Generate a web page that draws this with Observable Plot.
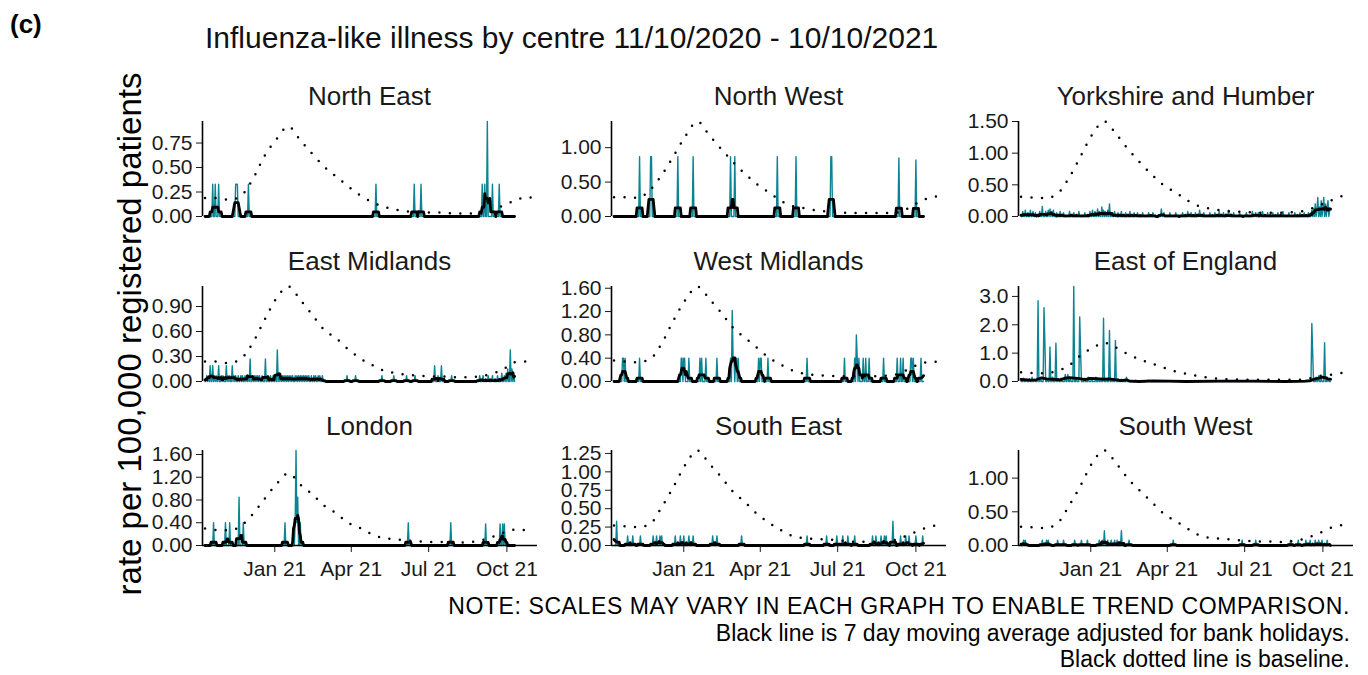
<!DOCTYPE html>
<html><head><meta charset="utf-8">
<script src="https://cdn.jsdelivr.net/npm/d3@7"></script>
<script src="https://cdn.jsdelivr.net/npm/@observablehq/plot@0.6"></script>
<style>
body{margin:0;background:#fff;}
#root{position:relative;width:1368px;height:675px;overflow:hidden;background:#fff;font-family:"Liberation Sans",Arial,sans-serif;}
#overlay{position:absolute;left:0;top:0;pointer-events:none;}
</style></head><body><div id="root"></div>
<script>
// ---------- data ----------
const startDate = "2020-10-11";           // day index 0 of the daily series
const nDays = 365;                         // 11/10/2020 - 10/10/2021
const xDomain = ["2020-10-08", "2021-11-06"];
const xTicks = ["2021-01-01", "2021-04-01", "2021-07-01", "2021-10-01"];

const regions = ["North East", "North West", "Yorkshire and Humber",
  "East Midlands", "West Midlands", "East of England",
  "London", "South East", "South West"];

// baseline (dotted) sample dates
const baseDates = ["2020-10-11","2020-10-25","2020-11-08","2020-11-22","2020-12-06","2020-12-20",
  "2021-01-03","2021-01-17","2021-01-31","2021-02-14","2021-02-28","2021-03-14","2021-03-28",
  "2021-04-11","2021-04-25","2021-05-09","2021-05-23","2021-06-06","2021-06-20","2021-07-04",
  "2021-07-18","2021-08-01","2021-08-15","2021-08-29","2021-09-12","2021-09-26","2021-10-10",
  "2021-10-24","2021-10-31"];

const neBase = [0.19,0.19,0.17,0.21,0.38,0.62,0.79,0.92,0.78,0.64,0.51,0.41,0.31,0.22,0.15,0.10,0.07,0.05,0.05,0.04,0.04,0.03,0.03,0.03,0.05,0.11,0.16,0.20,0.19];
const nwBase = [0.28,0.28,0.27,0.38,0.60,0.88,1.17,1.38,1.18,0.98,0.79,0.62,0.47,0.35,0.23,0.15,0.12,0.09,0.07,0.06,0.05,0.05,0.05,0.05,0.06,0.15,0.24,0.29,0.29];
const yhBase = [0.31,0.30,0.29,0.35,0.60,0.95,1.30,1.50,1.30,1.06,0.85,0.66,0.49,0.38,0.25,0.16,0.12,0.09,0.08,0.07,0.06,0.06,0.06,0.07,0.10,0.17,0.25,0.32,0.30];
const emBase = [0.24,0.24,0.22,0.27,0.46,0.74,1.00,1.14,0.98,0.80,0.62,0.52,0.39,0.28,0.20,0.13,0.10,0.08,0.07,0.06,0.06,0.05,0.05,0.06,0.09,0.14,0.23,0.24,0.24];
const wmBase = [0.36,0.34,0.33,0.38,0.65,1.05,1.40,1.63,1.42,1.18,0.92,0.75,0.58,0.41,0.29,0.19,0.13,0.11,0.10,0.09,0.09,0.09,0.09,0.10,0.14,0.24,0.32,0.34,0.34];
const eeBase = [0.33,0.30,0.29,0.37,0.55,0.92,1.18,1.36,1.19,0.96,0.78,0.63,0.49,0.35,0.26,0.18,0.12,0.08,0.07,0.06,0.06,0.06,0.06,0.06,0.09,0.19,0.24,0.30,0.29];
const lnBase = [0.30,0.27,0.27,0.34,0.55,0.82,1.08,1.27,1.07,0.90,0.70,0.57,0.40,0.31,0.20,0.13,0.11,0.09,0.07,0.06,0.06,0.05,0.06,0.08,0.14,0.22,0.28,0.27,0.27];
const seBase = [0.27,0.26,0.25,0.29,0.52,0.80,1.10,1.29,1.11,0.93,0.73,0.59,0.43,0.31,0.21,0.13,0.10,0.09,0.08,0.07,0.05,0.05,0.05,0.05,0.10,0.16,0.23,0.27,0.27];
const swBase = [0.28,0.27,0.26,0.32,0.58,0.89,1.23,1.41,1.22,0.99,0.81,0.64,0.47,0.36,0.25,0.15,0.11,0.10,0.08,0.07,0.06,0.06,0.05,0.07,0.11,0.18,0.26,0.30,0.28];

// daily rates: [day index from 11/10/2020, rate]; all other days are 0
const neDaily = [[9,.33],[12,.33],[16,.33],[36,.33],[37,.33],[38,.33],[51,.33],[201,.33],[246,.33],[254,.33],[326,.33],[329,.33],[332,.97],[338,.33],[346,.33]];
const nwDaily = [[30,.87],[43,.87],[44,.87],[75,.87],[93,.87],[137,.87],[142,.87],[192,.87],[214,.87],[255,.87],[256,.87],[335,.85],[355,.82]];
const yhDaily = [[2,.08],[5,.1],[8,.06],[11,.1],[14,.08],[17,.06],[22,.08],[25,.16],[29,.08],[32,.1],[34,.12],[36,.08],[38,.1],[42,.06],[46,.08],[50,.06],[57,.08],[62,.06],[68,.08],[75,.06],[81,.08],[84,.1],[87,.08],[90,.12],[92,.08],[95,.15],[97,.1],[99,.08],[102,.1],[104,.2],[107,.06],[110,.08],[114,.06],[118,.08],[123,.06],[128,.08],[133,.06],[137,.06],[143,.06],[150,.06],[155,.06],[165,.12],[168,.06],[175,.06],[182,.06],[190,.06],[196,.08],[200,.06],[205,.06],[210,.1],[215,.06],[222,.06],[228,.06],[233,.08],[238,.06],[244,.1],[250,.06],[257,.06],[265,.06],[272,.08],[276,.06],[279,.06],[284,.08],[290,.06],[296,.06],[302,.06],[308,.08],[315,.06],[322,.06],[328,.06],[333,.06],[338,.06],[342,.1],[344,.12],[346,.2],[348,.1],[349,.3],[351,.15],[353,.25],[355,.12],[356,.3],[358,.2],[360,.15],[361,.25],[363,.1],[364,.12]];
const emDaily = [[2,.07],[4,.07],[6,.19],[9,.19],[11,.07],[13,.07],[16,.19],[19,.07],[21,.07],[25,.19],[27,.07],[29,.07],[32,.19],[34,.07],[36,.07],[39,.07],[42,.07],[44,.07],[47,.07],[49,.07],[51,.07],[53,.27],[56,.07],[58,.07],[60,.07],[62,.07],[64,.07],[67,.07],[71,.27],[74,.07],[77,.07],[80,.07],[83,.07],[85,.38],[87,.11],[89,.07],[91,.07],[93,.07],[95,.07],[97,.07],[99,.07],[101,.07],[103,.07],[106,.07],[108,.07],[110,.07],[112,.07],[114,.07],[116,.07],[118,.07],[120,.07],[122,.07],[125,.07],[128,.07],[130,.07],[133,.07],[135,.07],[138,.07],[167,.07],[177,.07],[208,.07],[222,.07],[237,.07],[247,.07],[270,.19],[274,.07],[278,.19],[290,.07],[323,.07],[327,.07],[333,.07],[338,.07],[344,.07],[349,.1],[352,.07],[354,.1],[356,.15],[359,.38],[361,.15],[363,.1]];
const wmDaily = [[10,.4],[11,.4],[13,.4],[30,.4],[79,.4],[80,.4],[82,.4],[83,.4],[88,.4],[101,.4],[103,.4],[108,.4],[121,.4],[137,.4],[139,1.22],[140,.4],[141,.4],[143,.4],[144,.4],[146,.4],[170,.4],[172,.4],[173,.4],[181,.4],[227,.4],[271,.4],[283,.4],[285,.8],[286,.4],[288,.4],[293,.4],[296,.4],[300,.4],[317,.4],[333,.4],[337,.4],[340,.4],[349,.4],[350,.4],[352,.4],[361,.4]];
const eeDaily = [[3,.12],[6,.08],[10,.1],[13,.15],[16,.08],[20,2.85],[23,.1],[27,2.6],[28,1.4],[31,.1],[34,1.22],[37,.15],[41,1.35],[44,.1],[47,.12],[52,.25],[55,.25],[58,.1],[62,3.35],[65,.1],[69,2.28],[70,1.1],[75,.12],[79,.15],[83,.1],[88,.15],[91,.1],[94,.12],[97,2.23],[101,.1],[104,1.8],[107,.1],[111,1.45],[114,.1],[118,.08],[124,.15],[135,.05],[150,.05],[200,.03],[250,.03],[300,.03],[342,2.05],[343,1.0],[347,.15],[350,.2],[353,.12],[357,1.37],[360,.15],[362,.1]];
// East of England's adjusted 7-day average, read separately: [day index, rate]
const eeAverage = [[0,.07],[11,.05],[18,.06],[24,.13],[30,.09],[38,.08],[46,.06],[52,.12],[57,.14],[63,.12],[69,.10],[75,.07],[81,.11],[89,.10],[96,.08],[104,.09],[112,.06],[118,.03],[124,.06],[128,.01],[139,0],[155,.02],[174,.01],[194,0],[233,.01],[272,.01],[311,0],[334,.01],[340,.03],[346,.09],[350,.12],[354,.15],[358,.14],[361,.09],[364,.08]];
const lnDaily = [[10,.4],[24,.4],[29,.4],[40,.85],[45,.4],[94,.4],[106,.4],[107,1.67],[108,.4],[109,.85],[112,.4],[239,.4],[289,.4],[330,.38],[347,.38],[350,.38],[352,.38]];
const seDaily = [[3,.33],[16,.13],[22,.13],[31,.13],[46,.13],[50,.13],[54,.13],[56,.13],[72,.13],[78,.13],[82,.13],[88,.13],[93,.13],[116,.13],[121,.13],[150,.13],[227,.13],[250,.13],[262,.13],[269,.13],[275,.13],[283,.13],[304,.13],[308,.13],[314,.13],[318,.13],[320,.13],[328,.33],[337,.13],[343,.13],[347,.13],[355,.13],[363,.13]];
const swDaily = [[3,.08],[5,.08],[25,.08],[30,.08],[32,.08],[43,.08],[50,.08],[63,.08],[71,.08],[78,.08],[92,.08],[96,.08],[98,.22],[102,.08],[106,.08],[110,.08],[113,.08],[118,.22],[127,.08],[179,.08],[260,.08],[276,.08],[317,.08],[326,.08],[335,.08],[340,.08],[346,.08],[350,.08],[354,.08],[360,.08]];

// y tick values per panel
const neTicks = [0, 0.25, 0.5, 0.75];
const nwTicks = [0, 0.5, 1];
const yhTicks = [0, 0.5, 1, 1.5];
const emTicks = [0, 0.3, 0.6, 0.9];
const wmTicks = [0, 0.4, 0.8, 1.2, 1.6];
const eeTicks = [0, 1, 2, 3];
const lnTicks = [0, 0.4, 0.8, 1.2, 1.6];
const seTicks = [0, 0.25, 0.5, 0.75, 1, 1.25];
const swTicks = [0, 0.5, 1];

const titleText = "Influenza-like illness by centre 11/10/2020 - 10/10/2021";
const yTitle = "rate per 100,000 registered patients";
const notes = ["NOTE: SCALES MAY VARY IN EACH GRAPH TO ENABLE TREND COMPARISON.",
  "Black line is 7 day moving average adjusted for bank holidays.",
  "Black dotted line is baseline."];

// ---------- build ----------
const panels = [
  {daily: neDaily, base: neBase, ticks: neTicks, fmt: ".2f"},
  {daily: nwDaily, base: nwBase, ticks: nwTicks, fmt: ".2f"},
  {daily: yhDaily, base: yhBase, ticks: yhTicks, fmt: ".2f"},
  {daily: emDaily, base: emBase, ticks: emTicks, fmt: ".2f"},
  {daily: wmDaily, base: wmBase, ticks: wmTicks, fmt: ".2f"},
  {daily: eeDaily, base: eeBase, ticks: eeTicks, fmt: ".1f", avg: eeAverage},
  {daily: lnDaily, base: lnBase, ticks: lnTicks, fmt: ".2f"},
  {daily: seDaily, base: seBase, ticks: seTicks, fmt: ".2f"},
  {daily: swDaily, base: swBase, ticks: swTicks, fmt: ".2f"}
];

const teal = "#0b8494";
const FONT = "'Liberation Sans', Arial, sans-serif";
const colX = [202, 611, 1018];
const rowY = [121, 286, 450];
const W = 335, H = 95;
const root = document.getElementById("root");
const day0 = new Date(startDate);
const dom = xDomain.map(d => new Date(d));

panels.forEach((p, k) => {
  const col = k % 3, row = Math.floor(k / 3);
  const ML = 70, MR = 8, MT = 4, MB = row === 2 ? 48 : 4;
  const vals = new Array(nDays).fill(0);
  for (const [i, v] of p.daily) vals[i] = v;
  const days = vals.map((v, i) => ({date: d3.utcDay.offset(day0, i), v}));
  const base = baseDates.map((d, i) => ({date: new Date(d), v: p.base[i]}));
  const avgMark = p.avg
    ? Plot.line(p.avg.map(([i, v]) => ({date: d3.utcDay.offset(day0, i), v})),
        {x: "date", y: "v", stroke: "black", strokeWidth: 2.8, strokeLinejoin: "round"})
    : Plot.line(days, Plot.windowY({k: 7, anchor: "middle", reduce: "mean"},
        {x: "date", y: "v", stroke: "black", strokeWidth: 2.8, strokeLinejoin: "round"}));
  const marks = [
    Plot.line(days, {x: "date", y: "v", stroke: teal, strokeWidth: 1.4}),
    Plot.line(base, {x: "date", y: "v", curve: "monotone-x", stroke: "black",
      strokeWidth: 2.5, strokeLinecap: "round", strokeDasharray: "0,10.5"}),
    avgMark,
    Plot.ruleX([dom[0]], {stroke: "black", strokeWidth: 1.6})
  ];
  if (row === 2) marks.push(Plot.ruleY([0], {stroke: "black", strokeWidth: 1.6}));
  const chart = Plot.plot({
    width: ML + W + MR, height: MT + H + MB,
    marginLeft: ML, marginRight: MR, marginTop: MT, marginBottom: MB,
    x: {type: "utc", domain: dom, ticks: xTicks.map(d => new Date(d)),
        tickFormat: d3.utcFormat("%b %y"), tickSize: 7, tickPadding: 9,
        axis: row === 2 ? "bottom" : null, label: null},
    y: {ticks: p.ticks, tickFormat: d3.format(p.fmt), tickSize: 6, tickPadding: 4, label: null},
    style: {fontSize: "21px", fontFamily: FONT, color: "#1a1a1a", background: "transparent", overflow: "visible"},
    marks
  });
  chart.style.position = "absolute";
  chart.style.left = (colX[col] - ML) + "px";
  chart.style.top = (rowY[row] - MT) + "px";
  root.appendChild(chart);
});

// ---------- text overlay ----------
const svg = d3.select(root).append("svg").attr("id", "overlay")
  .attr("width", 1368).attr("height", 675).style("font-family", FONT);
svg.append("text").attr("x", 10).attr("y", 33).attr("font-size", 26).attr("font-weight", "bold")
  .attr("fill", "#000").text("(c)");
svg.append("text").attr("x", 205).attr("y", 48).attr("font-size", 30).attr("fill", "#111").text(titleText);
regions.forEach((r, k) => {
  const col = k % 3, row = Math.floor(k / 3);
  svg.append("text").attr("x", colX[col] + W / 2).attr("y", [105, 270, 435][row])
    .attr("text-anchor", "middle").attr("font-size", 26).attr("fill", "#1a1a1a").text(r);
});
svg.append("text").attr("transform", "translate(141,334) rotate(-90)").attr("text-anchor", "middle")
  .attr("font-size", 33).attr("fill", "#000").text(yTitle);
notes.forEach((t, i) => {
  svg.append("text").attr("x", 1350).attr("y", 614 + i * 26.5).attr("text-anchor", "end")
    .attr("font-size", 23).attr("letter-spacing", i === 0 ? "0.6px" : null)
    .attr("fill", "#000").text(t);
});
</script></body></html>
